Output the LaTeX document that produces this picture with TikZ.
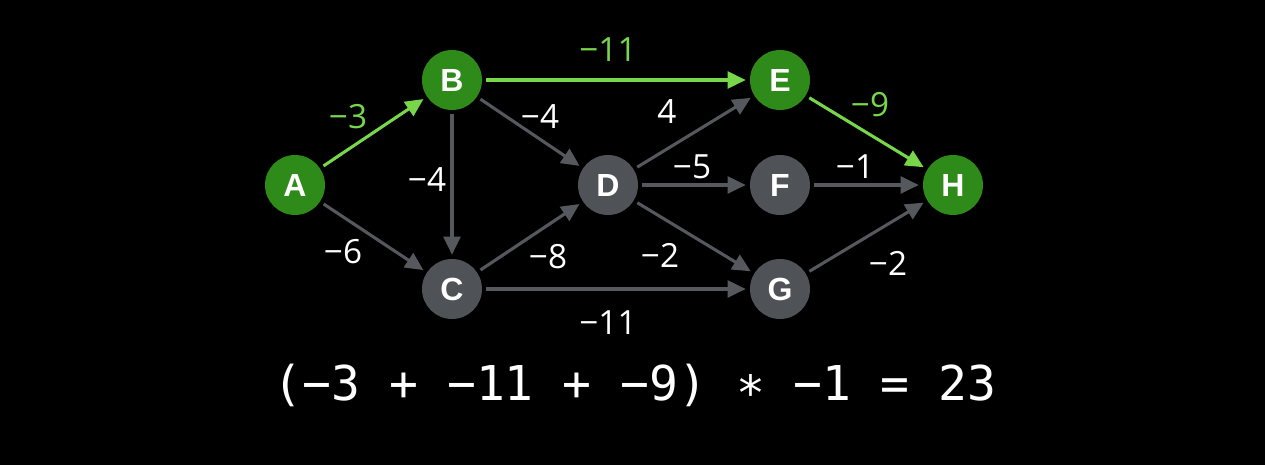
\documentclass[tikz,border=0pt]{standalone}
\usepackage{fontspec}
\setmainfont{Open Sans}
\newfontfamily\nodefont{Liberation Sans}
\newfontfamily\monofont{DejaVu Sans Mono}
\usetikzlibrary{arrows.meta}
\definecolor{gnode}{RGB}{46,139,26}
\definecolor{knode}{RGB}{79,82,87}
\definecolor{gedge}{RGB}{120,214,74}
\definecolor{kedge}{RGB}{85,88,93}
\tikzset{
  vert/.style={circle,minimum size=45pt,inner sep=0pt,text=white,font=\nodefont\bfseries\fontsize{24}{24}\selectfont},
  gv/.style={vert,fill=gnode},
  kv/.style={vert,fill=knode},
  edge/.style={line width=2.3pt,-{Triangle[length=13.5pt,width=12.5pt]},shorten >=3pt,shorten <=3pt},
  ge/.style={edge,draw=gedge},
  ke/.style={edge,draw=kedge},
  lab/.style={font=\fontsize{25}{25}\selectfont,text=white,inner sep=0pt},
  glab/.style={lab,text=gedge},
}
\begin{document}
\begin{tikzpicture}[x=0.75pt,y=-0.75pt]
\fill[black] (0,0) rectangle (1265,465);
\useasboundingbox (0,0) rectangle (1265,465);
\node[gv] (A) at (295,185) {A};
\node[gv] (B) at (452,80) {B};
\node[kv] (C) at (452,289) {C};
\node[kv] (D) at (608,185) {D};
\node[gv] (E) at (780,80) {E};
\node[kv] (F) at (780,185) {F};
\node[kv] (G) at (780,289) {G};
\node[gv] (H) at (953,185) {H};
\draw[ge] (A) -- (B);
\draw[ke] (A) -- (C);
\draw[ge] (B) -- (E);
\draw[ke] (B) -- (C);
\draw[ke] (B) -- (D);
\draw[ke] (C) -- (D);
\draw[ke] (C) -- (G);
\draw[ke] (D) -- (E);
\draw[ke] (D) -- (F);
\draw[ke] (D) -- (G);
\draw[ge] (E) -- (H);
\draw[ke] (F) -- (H);
\draw[ke] (G) -- (H);
\node[glab] (l1) at (348,117) {−3};
\node[glab] (l2) at (608,50) {−11};
\node[lab] (l3) at (540,117) {−4};
\node[lab] (l4) at (427,180) {−4};
\node[lab] (l5) at (343,252) {−6};
\node[lab] (l6) at (667,112) {4};
\node[lab] (l7) at (692,167) {−5};
\node[lab] (l8) at (855,167) {−1};
\node[glab] (l9) at (870,105) {−9};
\node[lab] (l10) at (548,257) {−8};
\node[lab] (l11) at (660,255) {−2};
\node[lab] (l12) at (888,263) {−2};
\node[lab] (l13) at (608,323) {−11};
\node[text=white,inner sep=0pt,font=\monofont\fontsize{36}{36}\selectfont] (eq) at (635,385) {(−3 + −11 + −9) ∗ −1 = 23};
\end{tikzpicture}
\end{document}
